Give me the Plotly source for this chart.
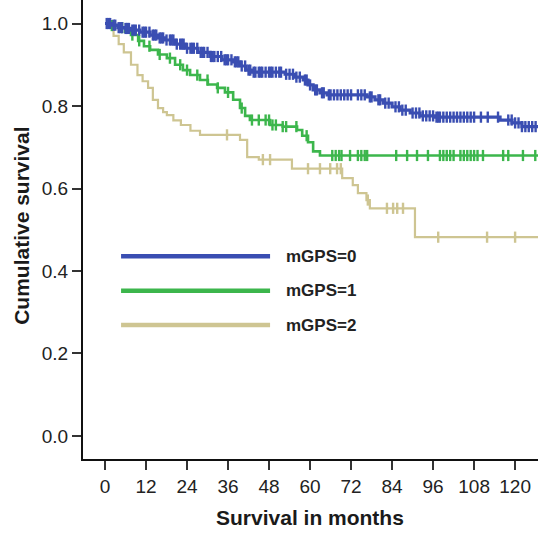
import plotly.graph_objects as go

# ---- data (months, cumulative survival) ----
blue_t = [0, 2, 3.8, 5.9, 7.6, 10.2, 13.2, 15.5, 17.6, 20.5, 23.4, 27.2, 30.7, 34.2, 37.5,
          39.5, 41.3, 43, 52.7, 55.6, 58, 59.4, 60.9, 62.9, 65, 76.7, 79, 81.4, 84, 86.3,
          89.3, 92.2, 96.6, 115.6, 119.1, 122, 127]
blue_s = [1.0, 0.996, 0.99, 0.988, 0.984, 0.979, 0.972, 0.965, 0.96, 0.95, 0.94, 0.93, 0.92,
          0.912, 0.907, 0.897, 0.887, 0.882, 0.877, 0.87, 0.863, 0.851, 0.839, 0.832, 0.827,
          0.822, 0.815, 0.807, 0.798, 0.79, 0.783, 0.776, 0.773, 0.766, 0.759, 0.75, 0.75]

green_t = [0, 1.5, 3.8, 5.9, 7.6, 9.7, 11.4, 13.2, 15.5, 18.1, 20.5, 22.8, 24.9, 27.8, 30.1,
           32.8, 35.1, 37.5, 39.5, 41, 42.4, 48.3, 52, 56.2, 57.7, 59.4, 60.9, 62.9, 127]
green_s = [1.0, 0.995, 0.99, 0.98, 0.972, 0.958, 0.945, 0.936, 0.925, 0.916, 0.9, 0.887,
           0.875, 0.863, 0.852, 0.844, 0.833, 0.815, 0.795, 0.776, 0.766, 0.754, 0.75, 0.742,
           0.728, 0.712, 0.69, 0.68, 0.68]

tan_t = [0, 0.9, 2.5, 4, 5.5, 7.6, 9.5, 11, 12.6, 14, 15.5, 17, 18.1, 20, 22.2, 25, 27.8,
         39.5, 41.6, 45, 54.7, 69.4, 72.5, 74, 76.5, 77.5, 90.7, 127]
tan_s = [1.0, 0.99, 0.97, 0.95, 0.93, 0.9, 0.875, 0.86, 0.844, 0.815, 0.795, 0.785, 0.778,
         0.765, 0.754, 0.74, 0.73, 0.718, 0.676, 0.67, 0.648, 0.625, 0.608, 0.589, 0.572,
         0.552, 0.482, 0.482]

# censored observation times (months)
blue_cens = [0.5, 1, 1.5, 2.5, 3, 4, 4.5, 5, 6, 6.5, 7, 8, 8.5, 9, 10, 11, 11.5, 12, 13, 14,
             14.5, 15, 16, 16.5, 17, 18, 19, 19.5, 20, 21, 22, 22.5, 23, 24, 25, 25.5, 26, 27,
             28, 28.5, 29, 30, 31, 31.5, 32, 33, 34, 35, 35.5, 36, 37, 38, 38.5, 39, 40, 41,
             42, 42.5, 43.5, 44, 45, 45.5, 46, 47, 48, 48.5, 49, 50, 51, 51.5, 53, 54, 55,
             56, 57, 58.5, 59, 60, 61.5, 62, 63.5, 64, 65.5, 66, 67, 68, 69, 70, 71, 72,
             74, 75, 76, 77.5, 78, 80, 80.5, 82, 83, 85, 86, 87, 88, 90, 91, 92, 93, 94,
             95, 96, 97, 97.5, 98, 99, 100, 101, 102, 103, 104, 105, 106, 107, 108, 110,
             112, 115, 118, 119, 120, 121, 122, 123, 124, 125, 126]
green_cens = [2, 5, 8, 10, 13, 16, 19, 22, 24, 27, 30, 33, 36, 40, 43, 45, 47, 48, 49, 50,
              52, 53, 56, 59, 66.5, 67.5, 68.5, 69.2, 71.7, 74, 75, 76, 76.7, 85.2, 88.4, 91.3,
              94.5, 98, 99, 100, 101, 102, 104, 105, 106, 107, 108, 109, 110.6, 116.5, 118,
              122.3, 125.9]
tan_cens = [35.7, 46.2, 48.3, 59.4, 62.9, 65.9, 67.9, 69, 76.9, 82.5, 84.3, 85.5, 87.2,
            97.5, 111.8, 120]

series = [
    ("mGPS=2", tan_t, tan_s, tan_cens, "rgb(206,197,146)", 2.2),
    ("mGPS=1", green_t, green_s, green_cens, "rgb(60,182,76)", 2.6),
    ("mGPS=0", blue_t, blue_s, blue_cens, "rgb(58,78,178)", 3.2),
]


def step_value(ts, ss, t):
    v = ss[0]
    for ti, si in zip(ts, ss):
        if ti <= t:
            v = si
        else:
            break
    return v


fig = go.Figure()
for name, ts, ss, cens, col, lw in series:
    fig.add_trace(go.Scatter(x=ts, y=ss, mode="lines", line=dict(color=col, width=lw, shape="hv"),
                             name=name, showlegend=False, hoverinfo="skip"))
    fig.add_trace(go.Scatter(x=cens, y=[step_value(ts, ss, c) for c in cens], mode="markers",
                             marker=dict(symbol="line-ns", size=8, line=dict(color=col, width=2.4)),
                             showlegend=False, hoverinfo="skip"))

# custom legend
legend_rows = [("mGPS=0", "rgb(58,78,178)", 0.436),
               ("mGPS=1", "rgb(60,182,76)", 0.352),
               ("mGPS=2", "rgb(206,197,146)", 0.269)]
for label, col, yv in legend_rows:
    fig.add_shape(type="line", x0=4.7, x1=48.3, y0=yv, y1=yv, xref="x", yref="y",
                  line=dict(color=col, width=4.5))
    fig.add_annotation(x=52.4, y=yv, xref="x", yref="y", text=label, showarrow=False,
                       xanchor="left", yanchor="middle",
                       font=dict(family="Arial", size=17, color="#222222", weight="bold"))

fig.add_annotation(x=-0.134, y=0.508, xref="paper", yref="paper", text="<b>Cumulative survival</b>",
                   textangle=-90, showarrow=False, xanchor="center", yanchor="middle",
                   font=dict(family="Arial", size=21, color="#1a1a1a"))
fig.add_annotation(x=0.499, y=-0.1285, xref="paper", yref="paper", text="<b>Survival in months</b>",
                   showarrow=False, xanchor="center", yanchor="middle",
                   font=dict(family="Arial", size=21, color="#1a1a1a"))

fig.update_layout(
    width=538, height=534,
    margin=dict(l=83, r=0, t=0, b=75),
    plot_bgcolor="white", paper_bgcolor="white",
    showlegend=False,
)
fig.update_xaxes(range=[-6.44, 126.7], tickmode="array", tickvals=[0, 12, 24, 36, 48, 60, 72, 84, 96, 108, 120],
                 showgrid=False, zeroline=False, showline=True, linecolor="#111111", linewidth=2,
                 ticks="outside", ticklen=9, tickwidth=2, tickcolor="#333333", automargin=False,
                 tickfont=dict(family="Arial", size=19, color="#222222"))
fig.update_yaxes(range=[-0.0558, 1.057], tickmode="array", tickvals=[0, 0.2, 0.4, 0.6, 0.8, 1.0],
                 tickformat=".1f", automargin=False,
                 showgrid=False, zeroline=False, showline=True, linecolor="#111111", linewidth=2,
                 ticks="outside", ticklen=9, tickwidth=2, tickcolor="#333333",
                 tickfont=dict(family="Arial", size=19, color="#222222"))

fig.write_html("out.html", config={"displayModeBar": False},
               post_script="document.body.style.margin='0';document.body.style.overflow='hidden';")
